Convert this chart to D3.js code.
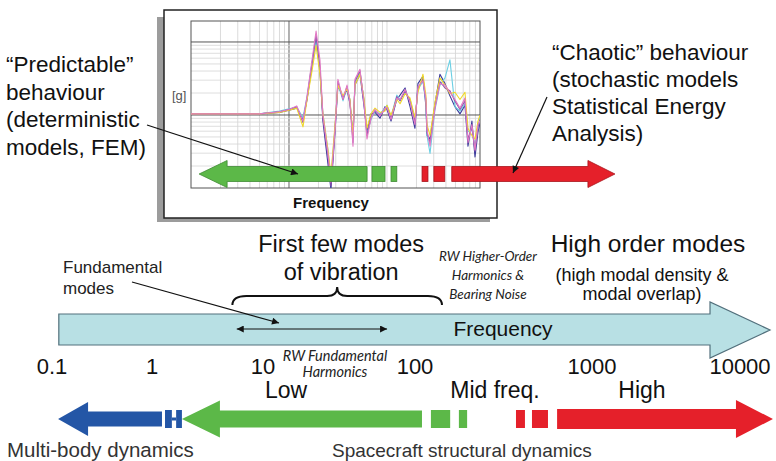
<!DOCTYPE html>
<html>
<head>
<style>
  body { margin: 0; background: #fff; }
  svg { display: block; font-family: "Liberation Sans", Arial, sans-serif; }
  .big { font-size: 22.5px; fill: #111; }
  .ital { font-family: Lato, "Open Sans", sans-serif; font-style: italic; font-size: 13.5px; fill: #222; }
</style>
<script src="https://d3js.org/d3.v7.min.js"></script>
</head>
<body>
<svg id="chart" width="776" height="461"></svg>
<script>
// main frequency axis (Hz)
const mainTicks = [0.1, 1, 10, 100, 1000, 10000];
const mainTickLabels = ['0.1', '1', '10', '100', '1000', '10000'];
const freqArrow = [0.117, 15950];
const fundamentalBand = [5.8, 65.5];
const firstModesBand = [5.3, 142];
const rangeNames = ['Low', 'Mid freq.', 'High'];
const rangeCentres = [14.2, 283, 2176];

// bottom row of regime arrows (Hz)
const multiBodyArrow = [0.115, 1.23];
const multiBodyBlocks = [[1.31, 1.51], [1.65, 1.86]];
const lowArrow = [1.86, 109.5];
const lowBlocks = [[123, 158], [177, 197]];
const highBlocks = [[372, 418], [458, 564]];
const highArrow = [635, 16700];

// inset response plot
const insetFreq = [1, 5, 8, 10, 12, 13.9, 15.3, 17.2, 18.9, 20.7, 22.2, 25, 26.8, 29.5, 31.6,
  35.6, 39.1, 41.9, 45, 47.1, 53, 58.2, 62.5, 68.7, 75.5, 84.9, 95.4, 100, 110, 126,
  136, 153, 172, 193, 207, 233, 250, 256, 275, 309, 347, 391, 439, 494, 556,
  625, 671, 736, 791, 849, 889];
const insetPurple = [0, 0, 0.03, 0.06, 0.1, -0.12, 0.22, 0.7, 1.1, 0.65, -0.05, -0.6, -1.0, -0.2, 0.45,
  0.2, 0.38, 0.18, -0.4, 0.45, 0.6, 0.18, -0.3, -0.05, 0.05, -0.02, 0.06, 0.1, -0.06, 0.24,
  0.18, 0.32, 0.18, -0.12, 0.36, 0.48, 0.18, -0.26, -0.4, 0.1, 0.45, 0.36, 0.32, 0.18, 0.06,
  0.18, -0.35, -0.18, -0.52, -0.18, -0.08];
const insetNavy = [0, 0, 0.02, 0.05, 0.08, -0.08, 0.2, 0.68, 1.05, 0.6, -0.1, -0.7, -1.05, -0.25, 0.4,
  0.22, 0.34, 0.14, -0.3, 0.4, 0.55, 0.12, -0.25, 0.0, 0.02, -0.06, 0.1, 0.06, -0.1, 0.2,
  0.26, 0.36, 0.1, -0.2, 0.42, 0.52, 0.1, -0.3, -0.35, 0.14, 0.55, 0.42, 0.25, 0.1, 0.0,
  0.12, -0.45, -0.1, -0.6, -0.25, -0.12];
const insetYellow = [0, 0, 0.02, 0.05, 0.08, -0.18, 0.2, 0.6, 0.95, 0.55, 0.0, -0.5, -0.85, -0.15, 0.4,
  0.25, 0.35, 0.2, -0.3, 0.4, 0.55, 0.22, -0.2, 0.0, 0.08, 0.02, 0.04, 0.12, -0.02, 0.2,
  0.14, 0.28, 0.22, -0.05, 0.3, 0.55, 0.25, -0.15, -0.3, 0.16, 0.5, 0.4, 0.28, 0.3, 0.2,
  0.3, -0.2, -0.3, -0.35, -0.1, -0.02];
const insetCyan = [0, 0, 0.04, 0.07, 0.09, -0.05, 0.24, 0.72, 1.0, 0.6, 0.0, -0.5, -0.9, -0.18, 0.42,
  0.18, 0.36, 0.2, -0.35, 0.42, 0.58, 0.2, -0.28, -0.08, 0.04, 0.0, 0.08, 0.12, -0.04, 0.26,
  0.2, 0.3, 0.2, -0.08, 0.34, 0.45, 0.15, -0.3, -0.55, 0.06, 0.4, 0.5, 0.75, 0.1, 0.04,
  0.14, -0.25, -0.22, -0.45, -0.2, -0.05];
const insetPink = [0, 0, 0.03, 0.06, 0.11, -0.1, 0.25, 0.75, 1.15, 0.75, -0.02, -0.55, -0.95, -0.22, 0.48,
  0.2, 0.4, 0.16, -0.45, 0.48, 0.62, 0.16, -0.35, -0.06, 0.06, -0.03, 0.08, 0.09, -0.08, 0.22,
  0.2, 0.34, 0.16, -0.15, 0.38, 0.46, 0.2, -0.22, -0.45, 0.08, 0.42, 0.4, 0.3, 0.2, 0.08,
  0.22, -0.4, -0.15, -0.5, -0.15, -0.1];
const insetSeries = [
  {name: 'navy', color: '#3a3a9c', values: insetNavy},
  {name: 'cyan', color: '#6ccfe3', values: insetCyan},
  {name: 'purple', color: '#8d52ac', values: insetPurple},
  {name: 'yellow', color: '#f0d828', values: insetYellow},
  {name: 'pink', color: '#e27ac4', values: insetPink}
];
const insetGreenArrow = [1.21, 62.7];
const insetGreenBlocks = [[70.3, 95.5], [110, 126]];
const insetRedBlocks = [[228, 262], [301, 389]];
const insetRedArrow = [458, 21200];

const GREEN = '#5cb848', RED = '#e5202a', BLUE = '#2456a6';

const svg = d3.select('#chart');

// markers
const defs = svg.append('defs');
defs.append('marker')
    .attr('id', 'head')
    .attr('viewBox', '0 0 10 10')
    .attr('refX', 10).attr('refY', 5)
    .attr('markerWidth', 10).attr('markerHeight', 7)
    .attr('markerUnits', 'userSpaceOnUse')
    .attr('orient', 'auto-start-reverse')
  .append('path')
    .attr('d', 'M0,0 L10,5 L0,10 z')
    .attr('fill', '#111');
defs.append('clipPath').attr('id', 'plotClip')
  .append('rect').attr('x', 191).attr('y', 21).attr('width', 289).attr('height', 167);

// arrow outline: tip on the left when dir < 0
function arrowPoints(x0, x1, cy, dir, head, shaftH, headH) {
    if (dir < 0) {
        return [[x0, cy], [x0 + head, cy - headH], [x0 + head, cy - shaftH], [x1, cy - shaftH],
                [x1, cy + shaftH], [x0 + head, cy + shaftH], [x0 + head, cy + headH]];
    }
    return [[x1, cy], [x1 - head, cy - headH], [x1 - head, cy - shaftH], [x0, cy - shaftH],
            [x0, cy + shaftH], [x1 - head, cy + shaftH], [x1 - head, cy + headH]];
}

/* ---------- inset ---------- */
const inset = svg.append('g');
inset.append('rect').attr('x', 157).attr('y', 17).attr('width', 333).attr('height', 205)
    .attr('fill', '#9c9c9c');
inset.append('rect').attr('x', 164).attr('y', 10).attr('width', 333).attr('height', 208)
    .attr('fill', '#fff').attr('stroke', '#222').attr('stroke-width', 1.5);

const insetX = d3.scaleLog().domain([1, 890]).range([191, 480]);
const insetY = d3.scaleLinear().domain([-1.03, 1.29]).range([188, 21]);
const insetGrid = d3.scaleLog().domain([1, 200]).range([188, 20]);

const grid = inset.append('g');
grid.selectAll('line.v')
    .data(insetX.ticks().filter(f => f > 1 && f < 890))
    .enter().append('line')
    .attr('x1', d => insetX(d)).attr('x2', d => insetX(d))
    .attr('y1', 21).attr('y2', 188)
    .attr('stroke', d => d === 10 ? '#666' : '#d2d2d2')
    .attr('stroke-width', d => d === 10 ? 1 : 0.8);
grid.selectAll('line.h')
    .data(insetGrid.ticks().filter(g => g > 1 && g < 200))
    .enter().append('line')
    .attr('x1', 191).attr('x2', 480)
    .attr('y1', d => insetGrid(d)).attr('y2', d => insetGrid(d))
    .attr('stroke', d => (d === 10 || d === 100) ? '#555' : '#d6d6d6')
    .attr('stroke-width', d => (d === 10 || d === 100) ? 1 : 0.8);
inset.append('rect').attr('x', 191).attr('y', 21).attr('width', 289).attr('height', 167)
    .attr('fill', 'none').attr('stroke', '#555').attr('stroke-width', 1);

const line = d3.line()
    .x((d, i) => insetX(insetFreq[i]))
    .y(d => insetY(d));
inset.append('g').attr('clip-path', 'url(#plotClip)')
    .selectAll('path')
    .data(insetSeries)
    .enter().append('path')
    .attr('d', d => line(d.values))
    .attr('fill', 'none')
    .attr('stroke', d => d.color)
    .attr('stroke-width', 1.1)
    .attr('stroke-linejoin', 'round');

inset.append('text').attr('x', 172).attr('y', 100)
    .style('font-size', '13px').style('fill', '#555').text('[g]');
inset.append('text').attr('x', 331).attr('y', 208).attr('text-anchor', 'middle')
    .style('font-size', '15px').style('font-weight', 'bold').style('fill', '#111').text('Frequency');

// inset regime arrows
const insetCy = 174;
inset.append('polygon')
    .attr('points', arrowPoints(insetX(insetGreenArrow[0]), insetX(insetGreenArrow[1]), insetCy, -1, 28, 7.5, 13.5).join(' '))
    .attr('fill', GREEN).attr('stroke', '#3f8a33').attr('stroke-width', 0.8);
inset.selectAll('rect.gb').data(insetGreenBlocks).enter().append('rect')
    .attr('x', d => insetX(d[0])).attr('width', d => insetX(d[1]) - insetX(d[0]))
    .attr('y', insetCy - 7.5).attr('height', 15)
    .attr('fill', GREEN).attr('stroke', '#3f8a33').attr('stroke-width', 0.8);
inset.selectAll('rect.rb').data(insetRedBlocks).enter().append('rect')
    .attr('x', d => insetX(d[0])).attr('width', d => insetX(d[1]) - insetX(d[0]))
    .attr('y', insetCy - 7.5).attr('height', 15)
    .attr('fill', RED).attr('stroke', '#a8141c').attr('stroke-width', 0.8);
svg.append('polygon')
    .attr('points', arrowPoints(insetX(insetRedArrow[0]), insetX(insetRedArrow[1]), insetCy, 1, 27, 7.5, 13.5).join(' '))
    .attr('fill', RED).attr('stroke', '#a8141c').attr('stroke-width', 0.8);

/* ---------- side texts ---------- */
const leftLines = ['\u201CPredictable\u201D', 'behaviour', '(deterministic', 'models, FEM)'];
svg.append('text').attr('class', 'big')
    .selectAll('tspan').data(leftLines).enter().append('tspan')
    .attr('x', 6).attr('y', (d, i) => 72 + i * 27.7).text(d => d);
const rightLines = ['\u201CChaotic\u201D behaviour', '(stochastic models', 'Statistical Energy', 'Analysis)'];
svg.append('text').attr('class', 'big')
    .selectAll('tspan').data(rightLines).enter().append('tspan')
    .attr('x', 552).attr('y', (d, i) => 60 + i * 27).text(d => d);

function pointer(x1, y1, x2, y2) {
    svg.append('line').attr('x1', x1).attr('y1', y1).attr('x2', x2).attr('y2', y2)
        .attr('stroke', '#111').attr('stroke-width', 1.2).attr('marker-end', 'url(#head)');
}
pointer(147, 125, 298, 174);
pointer(547, 97, 513, 173);

/* ---------- main frequency axis ---------- */
const mainX = d3.scaleLog()
    .domain(mainTicks)
    .range([52, 152, 263, 415, 592, 740]);

const fx0 = mainX(freqArrow[0]), fx1 = mainX(freqArrow[1]);
svg.append('polygon')
    .attr('points', [[fx0, 314], [fx1 - 60, 314], [fx1 - 60, 302], [fx1, 330],
                     [fx1 - 60, 358], [fx1 - 60, 345], [fx0, 345]].join(' '))
    .attr('fill', '#b8e0e4').attr('stroke', '#52707c').attr('stroke-width', 1.2);
svg.append('text').attr('x', 503).attr('y', 336).attr('text-anchor', 'middle')
    .style('font-size', '21px').style('fill', '#111').text('Frequency');

svg.append('line')
    .attr('x1', mainX(fundamentalBand[0])).attr('x2', mainX(fundamentalBand[1]))
    .attr('y1', 329).attr('y2', 329)
    .attr('stroke', '#111').attr('stroke-width', 1.2)
    .attr('marker-start', 'url(#head)').attr('marker-end', 'url(#head)');

svg.selectAll('text.tick').data(mainTicks).enter().append('text')
    .attr('x', d => mainX(d)).attr('y', 374).attr('text-anchor', 'middle')
    .style('font-size', '22px').style('fill', '#111')
    .text((d, i) => mainTickLabels[i]);

// fundamental modes
svg.append('text').style('font-size', '17px').style('fill', '#222')
    .selectAll('tspan').data(['Fundamental', 'modes']).enter().append('tspan')
    .attr('x', 63).attr('y', (d, i) => 273 + i * 21).text(d => d);
pointer(132, 282, 279, 323);

// brace for first few modes
const bx0 = mainX(firstModesBand[0]), bx1 = mainX(firstModesBand[1]), bm = (bx0 + bx1) / 2;
svg.append('path')
    .attr('d', `M${bx0},305 Q${bx0},296 ${bx0 + 14},296 L${bm - 10},296 Q${bm},296 ${bm},287 ` +
               `Q${bm},296 ${bm + 10},296 L${bx1 - 14},296 Q${bx1},296 ${bx1},305`)
    .attr('fill', 'none').attr('stroke', '#111').attr('stroke-width', 2);
svg.append('text').attr('text-anchor', 'middle').style('font-size', '23.5px').style('fill', '#111')
    .selectAll('tspan').data(['First few modes', 'of vibration']).enter().append('tspan')
    .attr('x', bm + 4).attr('y', (d, i) => 252 + i * 28).text(d => d);

svg.append('text').attr('class', 'ital').attr('text-anchor', 'middle')
    .selectAll('tspan').data(['RW Higher-Order', 'Harmonics &', 'Bearing Noise']).enter().append('tspan')
    .attr('x', 488).attr('y', (d, i) => 261 + i * 19).text(d => d);

svg.append('text').attr('x', 648).attr('y', 252).attr('text-anchor', 'middle')
    .style('font-size', '24.5px').style('fill', '#111').text('High order modes');
svg.append('text').attr('text-anchor', 'middle').style('font-size', '18px').style('fill', '#111')
    .selectAll('tspan').data(['(high modal density &', 'modal overlap)']).enter().append('tspan')
    .attr('x', 642).attr('y', (d, i) => 281 + i * 18.5).text(d => d);

svg.append('text').attr('class', 'ital').attr('text-anchor', 'middle').style('font-size', '14.5px')
    .selectAll('tspan').data(['RW Fundamental', 'Harmonics']).enter().append('tspan')
    .attr('x', 335).attr('y', (d, i) => 361 + i * 16).text(d => d);

/* ---------- bottom regime arrows ---------- */
svg.selectAll('text.range').data(rangeNames).enter().append('text')
    .attr('x', (d, i) => mainX(rangeCentres[i])).attr('y', 398).attr('text-anchor', 'middle')
    .style('font-size', '23px').style('fill', '#111').text(d => d);

const cy = 419;
function blocks(data, color) {
    svg.append('g').selectAll('rect').data(data).enter().append('rect')
        .attr('x', d => mainX(d[0])).attr('width', d => mainX(d[1]) - mainX(d[0]))
        .attr('y', cy - 9).attr('height', 18).attr('fill', color);
}
svg.append('rect')
    .attr('x', mainX(multiBodyBlocks[0][1])).attr('width', mainX(multiBodyBlocks[1][0]) - mainX(multiBodyBlocks[0][1]))
    .attr('y', cy - 1.5).attr('height', 3).attr('fill', BLUE);
svg.append('polygon')
    .attr('points', arrowPoints(mainX(multiBodyArrow[0]), mainX(multiBodyArrow[1]), cy, -1, 30, 7.5, 17).join(' '))
    .attr('fill', BLUE);
blocks(multiBodyBlocks, BLUE);
svg.append('polygon')
    .attr('points', arrowPoints(mainX(lowArrow[0]), mainX(lowArrow[1]), cy, -1, 38, 8.5, 18.5).join(' '))
    .attr('fill', GREEN);
blocks(lowBlocks, GREEN);
blocks(highBlocks, RED);
svg.append('polygon')
    .attr('points', arrowPoints(mainX(highArrow[0]), mainX(highArrow[1]), cy, 1, 37, 10, 19).join(' '))
    .attr('fill', RED);

svg.append('text').attr('x', 7).attr('y', 457)
    .style('font-size', '20.5px').style('fill', '#333').text('Multi-body dynamics');
svg.append('text').attr('x', 332).attr('y', 457)
    .style('font-size', '19px').style('fill', '#333').text('Spacecraft structural dynamics');
</script>
</body>
</html>
